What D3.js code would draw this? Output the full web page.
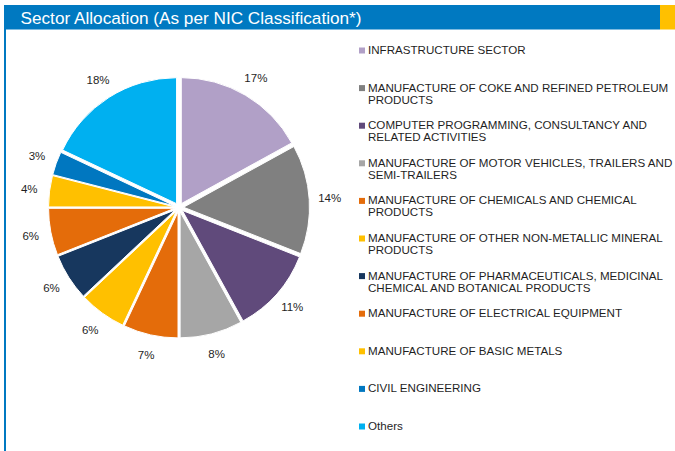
<!DOCTYPE html>
<html>
<head>
<meta charset="utf-8">
<script src="https://cdn.jsdelivr.net/npm/d3@7"></script>
<style>
  html, body { margin: 0; padding: 0; background: #fff; }
  svg { display: block; }
</style>
</head>
<body>
<svg id="chart" width="675" height="451"></svg>
<script>
// Sector allocation, share of portfolio (%)
const sectors = [
  "INFRASTRUCTURE SECTOR",
  "MANUFACTURE OF COKE AND REFINED PETROLEUM\nPRODUCTS",
  "COMPUTER PROGRAMMING, CONSULTANCY AND\nRELATED ACTIVITIES",
  "MANUFACTURE OF MOTOR VEHICLES, TRAILERS AND\nSEMI-TRAILERS",
  "MANUFACTURE OF CHEMICALS AND CHEMICAL\nPRODUCTS",
  "MANUFACTURE OF OTHER NON-METALLIC MINERAL\nPRODUCTS",
  "MANUFACTURE OF PHARMACEUTICALS, MEDICINAL\nCHEMICAL AND BOTANICAL PRODUCTS",
  "MANUFACTURE OF ELECTRICAL EQUIPMENT",
  "MANUFACTURE OF BASIC METALS",
  "CIVIL ENGINEERING",
  "Others"
];
const shares = [17, 14, 11, 8, 7, 6, 6, 6, 4, 3, 18];
const sliceColors = [
  "#B1A0C7", "#808080", "#604A7B", "#A6A6A6", "#E46C0A", "#FFC000",
  "#17375E", "#E46C0A", "#FFC000", "#0077C0", "#00B0F0"
];
const title = "Sector Allocation (As per NIC Classification*)";

const svg = d3.select("#chart");
const font = "'Liberation Sans', Arial, sans-serif";

// Header band
svg.append("rect").attr("x", 4).attr("y", 5).attr("width", 656).attr("height", 24.5).attr("fill", "#0079C1");
svg.append("rect").attr("x", 660).attr("y", 5).attr("width", 15).attr("height", 24.5).attr("fill", "#FFC000");
svg.append("rect").attr("x", 4).attr("y", 29).attr("width", 2).attr("height", 422).attr("fill", "#0079C1");
svg.append("text")
  .attr("x", 20.5).attr("y", 23.5)
  .attr("fill", "#fff")
  .style("font-family", font)
  .style("font-size", "17.2px")
  .text(title);

// Pie
const cx = 179, cy = 207.5, r = 126, explode = 4.5;
const pie = d3.pie().sort(null).value(d => d)(shares);
const arc = d3.arc().innerRadius(0).outerRadius(r);
const labelArc = d3.arc().innerRadius(151).outerRadius(151);

const g = svg.append("g").attr("transform", `translate(${cx},${cy})`);

g.selectAll("path.slice")
  .data(pie)
  .join("path")
  .attr("class", "slice")
  .attr("d", arc)
  .attr("fill", (d, i) => sliceColors[i])
  .attr("stroke", "#fff")
  .attr("stroke-width", 1)
  .attr("transform", d => {
    const a = (d.startAngle + d.endAngle) / 2;
    return `translate(${explode * Math.sin(a)},${-explode * Math.cos(a)})`;
  });

g.selectAll("text.pct")
  .data(pie)
  .join("text")
  .attr("class", "pct")
  .attr("x", d => labelArc.centroid(d)[0])
  .attr("y", d => labelArc.centroid(d)[1])
  .attr("text-anchor", "middle")
  .attr("dy", "0.35em")
  .attr("fill", "#1f1f1f")
  .style("font-family", font)
  .style("font-size", "11.5px")
  .text(d => d.data + "%");

// Legend
const legendY = d3.scalePoint().domain(d3.range(sectors.length)).range([54, 430]);
const leg = svg.append("g");
sectors.forEach((name, i) => {
  const y = legendY(i);
  leg.append("rect")
    .attr("x", 359).attr("y", y - 6.5)
    .attr("width", 6).attr("height", 6)
    .attr("fill", sliceColors[i]);
  const t = leg.append("text")
    .attr("x", 368).attr("y", y)
    .attr("fill", "#1f1f1f")
    .style("font-family", font)
    .style("font-size", "11.6px");
  name.split("\n").forEach((line, k) => {
    t.append("tspan").attr("x", 368).attr("y", y + k * 12).text(line);
  });
});
</script>
</body>
</html>
